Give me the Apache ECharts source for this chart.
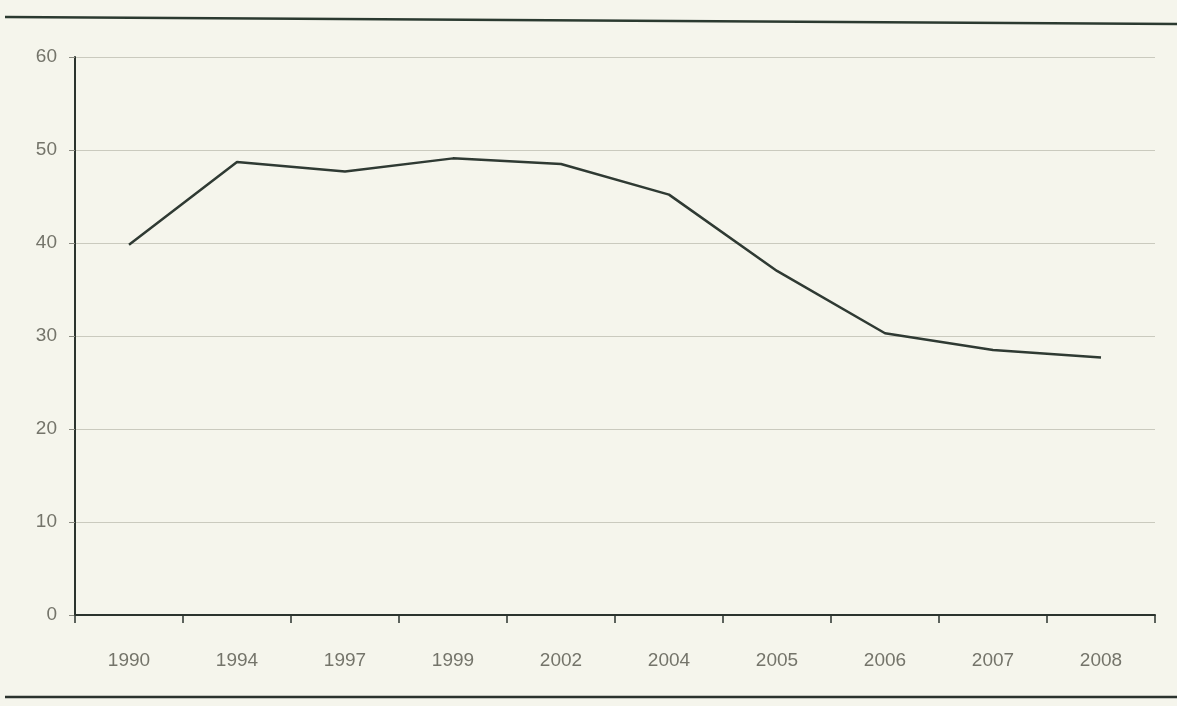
<!DOCTYPE html>
<html>
<head>
<meta charset="utf-8">
<script src="https://cdn.jsdelivr.net/npm/echarts@6/dist/echarts.min.js"></script>
<style>
html,body{margin:0;padding:0;background:#f5f5ec;}
#chart{width:1177px;height:706px;}
</style>
</head>
<body>
<div id="chart"></div>
<script>
const years = ['1990','1994','1997','1999','2002','2004','2005','2006','2007','2008'];
const values = [39.8, 48.7, 47.7, 49.1, 48.5, 45.2, 37.0, 30.3, 28.5, 27.7];
const yTicks = [0, 10, 20, 30, 40, 50, 60];

const chart = echarts.init(document.getElementById('chart'), null, {renderer: 'canvas'});
const font = '"Liberation Sans Narrow", "Liberation Sans", Arial, sans-serif';
chart.setOption({
  backgroundColor: '#f5f5ec',
  animation: false,
  grid: {left: 75, right: 22, top: 57, bottom: 91},
  xAxis: {
    type: 'category',
    data: years,
    boundaryGap: true,
    axisLine: {lineStyle: {color: '#2b332e', width: 2}},
    axisTick: {show: true, length: 8, inside: false, lineStyle: {color: '#2b332e', width: 1.5}},
    axisLabel: {color: '#74746a', fontSize: 19, fontFamily: font, margin: 36}
  },
  yAxis: {
    type: 'value',
    min: yTicks[0],
    max: yTicks[yTicks.length - 1],
    interval: 10,
    axisLine: {show: true, lineStyle: {color: '#2b332e', width: 2}},
    axisTick: {show: true, length: 6, lineStyle: {color: '#8a8a80', width: 1}},
    axisLabel: {color: '#74746a', fontSize: 19, fontFamily: font, margin: 18},
    splitLine: {show: true, lineStyle: {color: '#cacabe', width: 1}}
  },
  series: [{
    type: 'line',
    data: values,
    symbol: 'none',
    lineStyle: {color: '#2f3a33', width: 2.5},
    z: 5
  }],
  graphic: [
    {type: 'line', shape: {x1: 5, y1: 17, x2: 1177, y2: 24}, style: {stroke: '#2b3a30', lineWidth: 2.5}, silent: true},
    {type: 'line', shape: {x1: 5, y1: 697, x2: 1177, y2: 697}, style: {stroke: '#2b332e', lineWidth: 2.5}, silent: true}
  ]
});
</script>
</body>
</html>
